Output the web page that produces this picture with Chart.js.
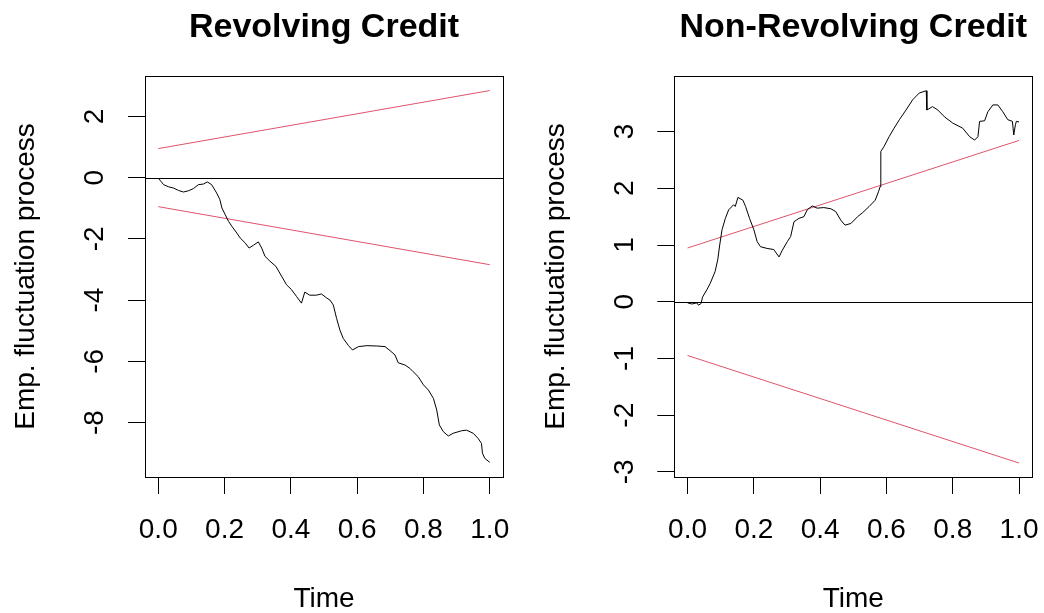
<!DOCTYPE html>
<html>
<head>
<meta charset="utf-8">
<script src="https://cdn.jsdelivr.net/npm/chart.js@4/dist/chart.umd.min.js"></script>
<style>
  html, body { margin: 0; padding: 0; background: #fff; }
  #wrap { position: relative; width: 1044px; height: 613px; }
  .panel { position: absolute; top: 0; width: 522px; height: 613px; }
</style>
</head>
<body>
<div id="wrap">
  <div class="panel" style="left:0"><canvas id="revChart" width="522" height="613"></canvas></div>
  <div class="panel" style="left:522px"><canvas id="nonRevChart" width="522" height="613"></canvas></div>
</div>
<script>
// x ticks shared by both panels
const timeTicks = [0, 0.2, 0.4, 0.6, 0.8, 1.0];

// boundaries (same for both panels)
const boundTime = [0, 1];
const upperBound = [0.948, 2.844];
const lowerBound = [-0.948, -2.844];

// Revolving credit
const revTime = [0, 0.008, 0.016, 0.031, 0.046, 0.061, 0.076, 0.091, 0.106, 0.121, 0.136, 0.148,
  0.161, 0.176, 0.186, 0.192, 0.202, 0.212, 0.222, 0.237, 0.247, 0.262, 0.274, 0.287, 0.302,
  0.312, 0.322, 0.337, 0.355, 0.372, 0.387, 0.402, 0.417, 0.432, 0.442, 0.457, 0.477, 0.492,
  0.508, 0.518, 0.528, 0.538, 0.548, 0.558, 0.574, 0.586, 0.604, 0.629, 0.659, 0.684, 0.699,
  0.714, 0.724, 0.744, 0.759, 0.769, 0.784, 0.8, 0.815, 0.83, 0.84, 0.848, 0.86, 0.875, 0.89,
  0.915, 0.93, 0.95, 0.965, 0.975, 0.978, 0.985, 1.0];
const revValues = [-0.02, -0.12, -0.23, -0.3, -0.34, -0.42, -0.47, -0.43, -0.36, -0.23, -0.21, -0.14,
  -0.23, -0.5, -0.72, -0.99, -1.21, -1.43, -1.59, -1.81, -1.97, -2.13, -2.3, -2.21, -2.1,
  -2.3, -2.57, -2.73, -2.9, -3.22, -3.5, -3.66, -3.88, -4.1, -3.74, -3.84, -3.84, -3.8,
  -3.93, -4.0, -4.16, -4.6, -4.98, -5.25, -5.49, -5.63, -5.52, -5.49, -5.5, -5.52, -5.65,
  -5.79, -6.05, -6.12, -6.23, -6.34, -6.5, -6.77, -6.94, -7.21, -7.59, -8.08, -8.3, -8.44, -8.35,
  -8.27, -8.25, -8.35, -8.52, -8.68, -9.0, -9.17, -9.3];
const revTicks = [-8, -6, -4, -2, 0, 2];

// Non-revolving credit
const nonRevTime = [0, 0.013, 0.028, 0.033, 0.041, 0.045, 0.058, 0.068, 0.083, 0.091, 0.097, 0.104,
  0.114, 0.124, 0.139, 0.144, 0.152, 0.167, 0.175, 0.187, 0.2, 0.21, 0.22, 0.24, 0.26, 0.276,
  0.286, 0.301, 0.311, 0.321, 0.336, 0.351, 0.361, 0.376, 0.391, 0.411, 0.432, 0.447, 0.462,
  0.475, 0.493, 0.513, 0.528, 0.548, 0.566, 0.576, 0.581, 0.583, 0.593, 0.608, 0.623, 0.639,
  0.659, 0.679, 0.699, 0.72, 0.722, 0.739, 0.755, 0.775, 0.8, 0.83, 0.851, 0.866, 0.876, 0.881,
  0.896, 0.906, 0.921, 0.936, 0.951, 0.966, 0.98, 0.984, 0.989, 0.992, 1.0];
const nonRevValues = [-0.02, -0.04, -0.02, -0.06, -0.03, 0.08, 0.21, 0.32, 0.53, 0.74, 1.0, 1.27,
  1.47, 1.62, 1.71, 1.68, 1.84, 1.79, 1.68, 1.47, 1.27, 1.06, 0.97, 0.94, 0.92, 0.79,
  0.91, 1.06, 1.15, 1.41, 1.47, 1.5, 1.62, 1.69, 1.65, 1.66, 1.64, 1.59, 1.44,
  1.35, 1.38, 1.5, 1.57, 1.68, 1.79, 1.94, 2.03, 2.65, 2.74, 2.91, 3.06, 3.21,
  3.38, 3.56, 3.68, 3.72, 3.38, 3.44, 3.38, 3.26, 3.15, 3.06, 2.91, 2.85, 2.91, 3.18,
  3.19, 3.35, 3.47, 3.47, 3.35, 3.21, 3.18, 2.94, 3.12, 3.18, 3.17];
const nonRevTicks = [-3, -2, -1, 0, 1, 2, 3];

const FONT = "'Liberation Sans', Arial, sans-serif";
const RED = '#DF536B';
Chart.defaults.color = '#000';
Chart.defaults.font.family = FONT;

const toPoints = (xs, ys) => xs.map((x, i) => ({ x: x, y: ys[i] }));

// box around the plot region + horizontal line at 0
const boxPlugin = {
  id: 'rbox',
  beforeDatasetsDraw(chart) {
    const { ctx, chartArea: a, scales } = chart;
    const y0 = Math.round(scales.y.getPixelForValue(0)) + 0.5;
    ctx.save();
    ctx.strokeStyle = '#000';
    ctx.lineWidth = 1;
    ctx.beginPath();
    ctx.moveTo(a.left, y0);
    ctx.lineTo(a.right, y0);
    ctx.stroke();
    ctx.restore();
  },
  afterDraw(chart) {
    const { ctx, chartArea: a } = chart;
    ctx.save();
    ctx.strokeStyle = '#000';
    ctx.lineWidth = 1;
    ctx.strokeRect(Math.round(a.left) + 0.5, Math.round(a.top) + 0.5,
      Math.round(a.right - a.left), Math.round(a.bottom - a.top));
    ctx.restore();
  }
};

function makeChart(id, title, xs, ys, yTicks, yMin, yMax, axisWidth, padRight, yTitlePad) {
  return new Chart(document.getElementById(id), {
    type: 'line',
    data: {
      datasets: [
        { data: toPoints(xs, ys), borderColor: '#000', borderWidth: 1 },
        { data: toPoints(boundTime, upperBound), borderColor: RED, borderWidth: 1 },
        { data: toPoints(boundTime, lowerBound), borderColor: RED, borderWidth: 1 }
      ]
    },
    options: {
      responsive: false,
      animation: false,
      devicePixelRatio: 1,
      elements: { point: { radius: 0 }, line: { tension: 0 } },
      layout: { padding: { left: 0, right: padRight, top: 0, bottom: 0 } },
      plugins: {
        legend: { display: false },
        tooltip: { enabled: false },
        title: {
          display: true,
          text: title,
          fullSize: false,
          color: '#000',
          font: { size: 34, weight: 'bold', family: FONT },
          padding: { top: 7.1, bottom: 28.1 }
        }
      },
      scales: {
        x: {
          type: 'linear',
          min: -0.04,
          max: 1.04,
          afterBuildTicks: s => { s.ticks = timeTicks.map(v => ({ value: v })); },
          afterFit: s => { s.height = 136; s.paddingLeft = 0; s.paddingRight = 0; },
          border: { display: false },
          grid: { drawOnChartArea: false, tickLength: 17, color: '#000', lineWidth: 1 },
          ticks: {
            maxRotation: 0,
            autoSkip: false,
            padding: 19,
            color: '#000',
            font: { size: 28 },
            callback: v => v.toFixed(1)
          },
          title: {
            display: true,
            text: 'Time',
            color: '#000',
            font: { size: 28, lineHeight: 1 },
            padding: { top: 0, bottom: 0 }
          }
        },
        y: {
          type: 'linear',
          min: yMin,
          max: yMax,
          afterBuildTicks: s => { s.ticks = yTicks.map(v => ({ value: v })); },
          afterFit: s => { s.width = axisWidth; s.paddingTop = 0; s.paddingBottom = 0; },
          border: { display: false },
          grid: { drawOnChartArea: false, tickLength: 17, color: '#000', lineWidth: 1 },
          ticks: {
            minRotation: 90,
            maxRotation: 90,
            crossAlign: 'center',
            autoSkip: false,
            padding: 20,
            color: '#000',
            font: { size: 28 },
            callback: v => String(v)
          },
          title: {
            display: true,
            text: 'Emp. fluctuation process',
            color: '#000',
            font: { size: 28 },
            padding: { top: yTitlePad, bottom: 0 }
          }
        }
      }
    },
    plugins: [boxPlugin]
  });
}

makeChart('revChart', 'Revolving Credit', revTime, revValues, revTicks, -9.78, 3.32, 145, 19, 9);
makeChart('nonRevChart', 'Non-Revolving Credit', nonRevTime, nonRevValues, nonRevTicks, -3.09, 3.98, 152.3, 11.7, 17.2);
</script>
</body>
</html>
